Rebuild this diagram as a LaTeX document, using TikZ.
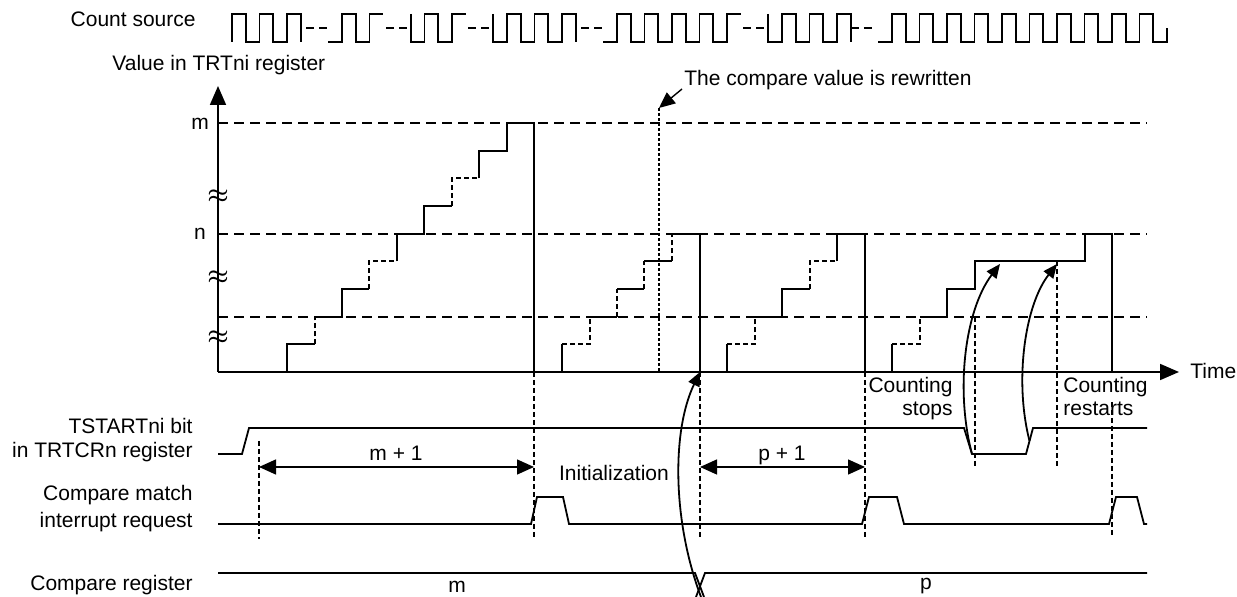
\documentclass[tikz,border=0pt]{standalone}
\usepackage{fontspec}
\setmainfont{Liberation Sans}
\usetikzlibrary{arrows.meta}
\begin{document}
\begin{tikzpicture}[x=0.5pt,y=-0.5pt,
  font=\fontsize{10.5pt}{12pt}\selectfont,
  sig/.style={line width=0.9pt},
  lvl/.style={line width=0.9pt,dash pattern=on 5pt off 3pt},
  sdash/.style={line width=0.9pt,dash pattern=on 2.5pt off 1.5pt},
  cdash/.style={line width=0.9pt,dash pattern=on 4pt off 2.5pt},
  tick/.style={line width=0.7pt,dash pattern=on 2.5pt off 1.5pt},
  dotl/.style={line width=0.7pt,dash pattern=on 1.5pt off 1pt},
  txt/.style={inner sep=0pt},
  apx/.style={inner sep=0pt,font=\fontsize{12pt}{12pt}\selectfont\boldmath},
  bigtip/.tip={Triangle[length=9.5pt,width=8pt]},
  dimtip/.tip={Triangle[length=8.5pt,width=7.5pt]},
  curvtip/.tip={Triangle[length=7pt,width=6pt]}]
\useasboundingbox (0,0) rectangle (1237,597);

% ---------- labels ----------
\node[txt,anchor=base east] (lcount) at (196,27) {Count source};
\node[txt,anchor=base west] (lvalue) at (112,71) {Value in TRTni register};
\node[txt,anchor=base west] (lrewr) at (684,86) {The compare value is rewritten};
\node[txt] (lm) at (200,124) {m};
\node[txt] (ln) at (200,234) {n};
\node[txt,anchor=base west] (ltime) at (1190,379) {Time};
\node[txt,anchor=base east] (lcs1) at (953,393) {Counting};
\node[txt,anchor=base east] (lcs2) at (953,416) {stops};
\node[txt,anchor=base west] (lcr1) at (1063,393) {Counting};
\node[txt,anchor=base west] (lcr2) at (1063,416) {restarts};
\node[txt,anchor=base] (lm1) at (396,461) {m + 1};
\node[txt,anchor=base] (lp1) at (782,461) {p + 1};
\node[txt,anchor=base] (linit) at (614,481) {Initialization};
\node[txt,anchor=base east] (lts1) at (193,434) {TSTARTni bit};
\node[txt,anchor=base east] (lts2) at (193,458) {in TRTCRn register};
\node[txt,anchor=base east] (lcm1) at (193,501) {Compare match};
\node[txt,anchor=base east] (lcm2) at (193,528) {interrupt request};
\node[txt,anchor=base east] (lcr) at (193,591) {Compare register};
\node[txt] (lregm) at (457,586.5) {m};
\node[txt] (lregp) at (926,586.5) {p};
\node[apx] (ap1) at (218,197) {$\approx$};
\node[apx] (ap2) at (218,278) {$\approx$};
\node[apx] (ap3) at (218,338) {$\approx$};

% ---------- count source ----------
\draw[sig] (232,42)--(232,14)--(245.75,14)--(245.75,42)--(259.5,42)--(259.5,14)--(273.25,14)--(273.25,42)--(287,42)--(287,14)--(300.75,14)--(300.75,42);
\draw[cdash] (306,28)--(327,28);
\draw[sig] (328.25,42)--(342,42)--(342,14)--(355.75,14)--(355.75,42)--(369.5,42)--(369.5,14)--(383.25,14);
\draw[cdash] (386,28)--(408,28);
\draw[sig] (410.75,14)--(410.75,42)--(424.5,42)--(424.5,14)--(438.25,14)--(438.25,42)--(452,42)--(452,14)--(465.75,14);
\draw[cdash] (468,28)--(491,28);
\draw[sig] (493.25,14)--(493.25,42)--(507,42)--(507,14)--(520.75,14)--(520.75,42)--(534.5,42)--(534.5,14)--(548.25,14)--(548.25,42)--(562,42)--(562,14)--(575.75,14)--(575.75,42);
\draw[cdash] (581,28)--(602,28);
\draw[sig] (603.25,42)--(617,42)--(617,14)--(630.75,14)--(630.75,42)--(644.5,42)--(644.5,14)--(658.25,14)--(658.25,42)--(672,42)--(672,14)--(685.75,14)--(685.75,42)--(699.5,42)--(699.5,14)--(713.25,14)--(713.25,42)--(727,42)--(727,14)--(740.75,14);
\draw[cdash] (743,28)--(766,28);
\draw[sig] (768.25,14)--(768.25,42)--(782,42)--(782,14)--(795.75,14)--(795.75,42)--(809.5,42)--(809.5,14)--(823.25,14)--(823.25,42)--(837,42)--(837,14)--(850.75,14)--(850.75,42);
\draw[cdash] (850.75,28)--(873,28);
\draw[sig] (878.25,42) foreach \k in {0,...,9} { -- ({892+27.5*\k},42) -- ++(0,-28) -- ++(13.75,0) -- ++(0,28) } -- (1167,42) -- (1167,28);

% ---------- axes and levels ----------
\coordinate (org) at (218,372);
\coordinate (ytop) at (218,86);
\coordinate (xend) at (1179,372);
\draw[lvl] (218,123) -- (1147,123);
\draw[lvl] (218,234) -- (1147,234);
\draw[lvl] (218,317) -- (1147,317);
\draw[sig,-bigtip] (org) -- (ytop);
\draw[sig,-bigtip] (org) -- (xend);

% ---------- staircase 1 ----------
\draw[sig] (287,372) -- (287,344.3) -- (315,344.3);
\draw[sdash] (315,344.3) -- (315,317);
\draw[sig] (315,317) -- (342,317) -- (342,289) -- (369,289);
\draw[sdash] (369,289) -- (369,261.3) -- (397,261.3);
\draw[sig] (397,261.3) -- (397,234) -- (424,234) -- (424,206) -- (452,206);
\draw[sdash] (452,206) -- (452,178.3) -- (479,178.3);
\draw[sig] (479,178.3) -- (479,150.7) -- (507,150.7) -- (507,123) -- (534,123) -- (534,372);
% ---------- staircase 2 ----------
\draw[sig] (562,372) -- (562,344.3);
\draw[sdash] (562,344.3) -- (590,344.3) -- (590,317);
\draw[sig] (590,317) -- (617,317);
\draw[sdash] (617,317) -- (617,289);
\draw[sig] (617,289) -- (644,289);
\draw[sdash] (644,289) -- (644,261.3);
\draw[sig] (644,261.3) -- (672,261.3);
\draw[sdash] (672,261.3) -- (672,234);
\draw[sig] (672,234) -- (700,234) -- (700,372);
% ---------- staircase 3 ----------
\draw[sig] (727,372) -- (727,344.3);
\draw[sdash] (727,344.3) -- (755,344.3) -- (755,317);
\draw[sig] (755,317) -- (782,317) -- (782,289) -- (810,289);
\draw[sdash] (810,289) -- (810,261.3) -- (837,261.3);
\draw[sig] (837,261.3) -- (837,234) -- (865,234) -- (865,372);
% ---------- staircase 4 ----------
\draw[sig] (892,372) -- (892,344.3);
\draw[sdash] (892,344.3) -- (920,344.3) -- (920,317);
\draw[sig] (920,317) -- (947,317) -- (947,289) -- (975,289) -- (975,261.3) -- (1085,261.3) -- (1085,234) -- (1112,234) -- (1112,372);

% ---------- compare value rewritten ----------
\coordinate (rw) at (659,108);
\draw[dotl] (rw) -- (659,372);
\coordinate (rwtail) at (682,89);
\draw[line width=0.7pt,-{Triangle[length=8pt,width=7pt]}] (rwtail) -- (rw);

% ---------- vertical dashed ticks ----------
\draw[tick] (259,441) -- (259,539);
\draw[tick] (534,372) -- (534,537);
\draw[tick] (700,372) -- (700,537);
\draw[tick] (865,372) -- (865,537);
\draw[tick] (975,317) -- (975,466);
\draw[tick] (1057,261.3) -- (1057,468);
\draw[tick] (1112,402) -- (1112,535);

% ---------- TSTART ----------
\draw[sig] (218,454) -- (242,454) -- (249,428) -- (964,428) -- (972,454) -- (1026,454) -- (1033,428) -- (1147,428);
\coordinate (stopA) at (972,454);
\coordinate (stopB) at (1000,264);
\coordinate (resA) at (1029.5,441);
\coordinate (resB) at (1057,264);
\draw[sig,-curvtip] (stopA) .. controls (955,390) and (965,310) .. (stopB);
\draw[sig,-curvtip] (resA) .. controls (1014,380) and (1025,305) .. (resB);

% ---------- dimension arrows ----------
\coordinate (d1a) at (259,467);
\coordinate (d1b) at (534,467);
\coordinate (d2a) at (700,467);
\coordinate (d2b) at (865,467);
\draw[line width=0.7pt,dimtip-dimtip] (d1a) -- (d1b);
\draw[line width=0.7pt,dimtip-dimtip] (d2a) -- (d2b);

% ---------- compare match ----------
\draw[sig] (218,524) -- (531,524) -- (537,497) -- (563,497) -- (569,524) -- (862,524) -- (869,497) -- (897,497) -- (904,524) -- (1109,524) -- (1116,497) -- (1137,497) -- (1144,524) -- (1147,524);

% ---------- compare register ----------
\draw[sig] (218,573) -- (695,573) -- (704,597);
\draw[sig] (696,597) -- (705,573) -- (1147,573);
\coordinate (iniA) at (701,597);
\coordinate (iniB) at (700,372);
\draw[sig,-curvtip] (iniA) .. controls (672,520) and (672,430) .. (iniB);
\end{tikzpicture}
\end{document}
